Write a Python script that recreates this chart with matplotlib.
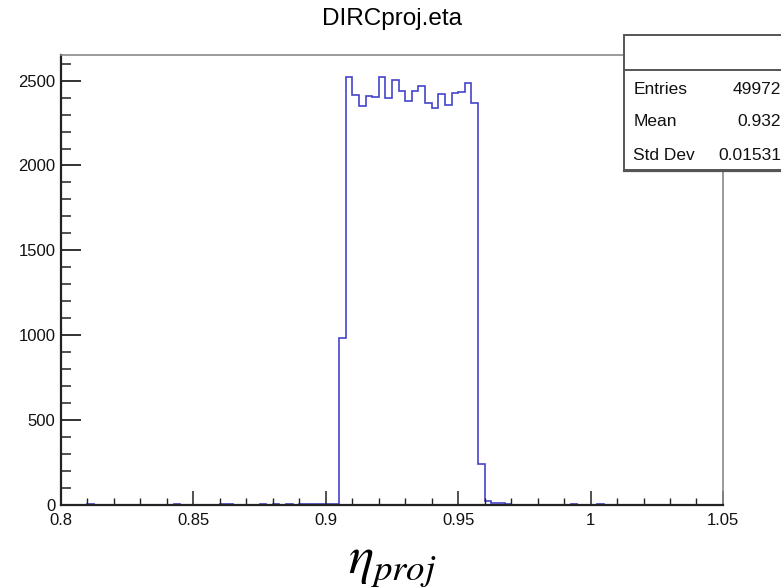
import matplotlib
matplotlib.use("Agg")
import matplotlib.pyplot as plt
import numpy as np
from matplotlib.patches import Rectangle
from matplotlib.lines import Line2D

plt.rcParams["font.family"] = ["Liberation Sans", "DejaVu Sans"]
plt.rcParams["mathtext.fontset"] = "stix"

# histogram: 100 bins over [0.8, 1.05]
x_lo, x_hi, n_bins = 0.8, 1.05, 100
counts = [
    0, 0, 0, 0, 4, 1, 0, 0, 0, 0,
    0, 0, 0, 0, 0, 0, 1, 6, 2, 0,
    0, 0, 0, 1, 5, 3, 0, 0, 0, 1,
    4, 2, 6, 1, 5, 2, 3, 3, 3, 4,
    8, 4, 985, 2524, 2416, 2351, 2412, 2406, 2524, 2397,
    2504, 2436, 2377, 2436, 2469, 2367, 2341, 2420, 2357, 2426,
    2430, 2485, 2371, 244, 25, 10, 12, 3, 1, 0,
    0, 0, 0, 0, 0, 0, 0, 4, 1, 0,
    1, 5, 2, 0, 0, 0, 0, 0, 0, 0,
    0, 0, 0, 0, 0, 0, 0, 0, 0, 0,
]
y_max = 2651

stat_names = ["Entries", "Mean", "Std Dev"]
stat_values = ["49972", "0.932", "0.01531"]

edges = np.linspace(x_lo, x_hi, n_bins + 1)

fig = plt.figure(figsize=(7.81, 5.88), dpi=100)
ax = fig.add_axes([0.0781, 0.1412, 0.8476, 0.7653])

ax.stairs(counts, edges, color="#4444cc", lw=1.2, baseline=None)
ax.set_xlim(x_lo, x_hi)
ax.set_ylim(0, y_max)

ax.set_xticks(np.arange(0.8, 1.051, 0.05))
ax.set_xticklabels(["0.8", "0.85", "0.9", "0.95", "1", "1.05"])
ax.set_xticks(np.arange(0.8, 1.051, 0.01), minor=True)
ax.set_yticks(np.arange(0, 2501, 500))
ax.set_yticks(np.arange(0, 2651, 100), minor=True)

ax.tick_params(axis="both", which="both", direction="in", colors="#222222",
               labelcolor="#111111", labelsize=12)
ax.tick_params(axis="x", which="major", length=10, width=1.1, pad=6)
ax.tick_params(axis="x", which="minor", length=5, width=1.0)
ax.tick_params(axis="y", which="major", length=14.5, width=1.3, pad=4)
ax.tick_params(axis="y", which="minor", length=7.5, width=1.1)

for side in ["left", "bottom"]:
    ax.spines[side].set_color("#222222")
    ax.spines[side].set_linewidth(1.6)
for side in ["top", "right"]:
    ax.spines[side].set_color("#8a8a8a")
    ax.spines[side].set_linewidth(1.2)

ax.set_xlabel(r"$\eta_{proj}$", fontsize=38, labelpad=8)

fig.text(0.5019, 0.968, "DIRCproj.eta", ha="center", va="center", fontsize=17.5)

# stats box
bx0, by0, by1, bdiv = 0.799, 0.7109, 0.9405, 0.881
fig.patches.append(Rectangle((bx0, by0), 1.05 - bx0, by1 - by0,
                             transform=fig.transFigure, facecolor="white",
                             edgecolor="#555555", lw=1.4, zorder=5))
fig.lines.append(Line2D([bx0, 1.05], [bdiv, bdiv], transform=fig.transFigure,
                        color="#555555", lw=1.4, zorder=6))
fig.lines.append(Line2D([bx0, 1.05], [by0 - 0.002, by0 - 0.002],
                        transform=fig.transFigure, color="#555555", lw=1.6,
                        zorder=6))
row_y = [1 - 89 / 588, 1 - 122 / 588, 1 - 155 / 588]
for name, val, yy in zip(stat_names, stat_values, row_y):
    fig.text(0.811, yy, name, ha="left", va="center", fontsize=12.5,
             color="#111111", zorder=7)
    fig.text(1.0, yy, val, ha="right", va="center", fontsize=12.5,
             color="#111111", zorder=7)

fig.savefig("out.png", dpi=100)
